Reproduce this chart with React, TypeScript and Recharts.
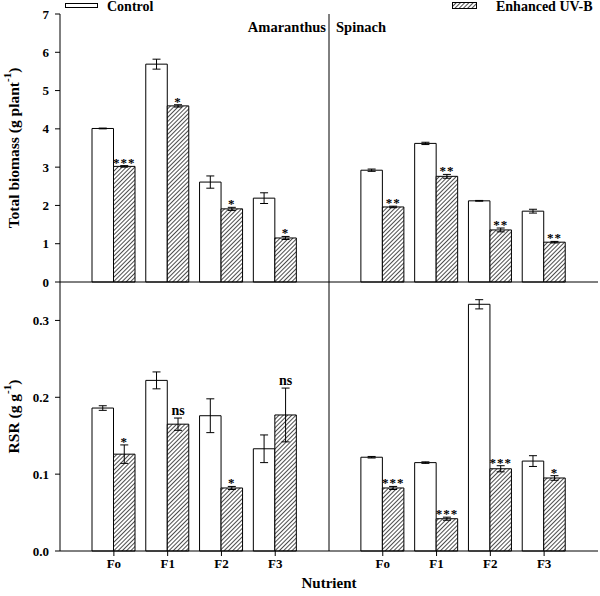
import React from 'react';
import {
  ComposedChart,
  Bar,
  XAxis,
  YAxis,
  ErrorBar,
  LabelList,
  ReferenceLine,
  Label
} from 'recharts';

const FONT = '"Liberation Serif", "Times New Roman", serif';

const nutrients = ['Fo', 'F1', 'F2', 'F3'];

// Total biomass (g plant-1)
const biomassAmaranthusControl = [4.01, 5.69, 2.61, 2.19];
const biomassAmaranthusControlErr = [0.01, 0.13, 0.16, 0.14];
const biomassAmaranthusUV = [3.02, 4.6, 1.91, 1.15];
const biomassAmaranthusUVErr = [0.02, 0.03, 0.04, 0.04];
const biomassAmaranthusSig = ['***', '*', '*', '*'];

const biomassSpinachControl = [2.92, 3.62, 2.12, 1.85];
const biomassSpinachControlErr = [0.03, 0.03, 0.01, 0.05];
const biomassSpinachUV = [1.96, 2.76, 1.36, 1.04];
const biomassSpinachUVErr = [0.02, 0.05, 0.05, 0.02];
const biomassSpinachSig = ['**', '**', '**', '**'];

// RSR (g g-1)
const rsrAmaranthusControl = [0.186, 0.222, 0.176, 0.133];
const rsrAmaranthusControlErr = [0.003, 0.011, 0.022, 0.018];
const rsrAmaranthusUV = [0.126, 0.165, 0.082, 0.177];
const rsrAmaranthusUVErr = [0.012, 0.008, 0.002, 0.035];
const rsrAmaranthusSig = ['*', 'ns', '*', 'ns'];

const rsrSpinachControl = [0.122, 0.115, 0.321, 0.117];
const rsrSpinachControlErr = [0.001, 0.001, 0.006, 0.007];
const rsrSpinachUV = [0.082, 0.042, 0.107, 0.095];
const rsrSpinachUVErr = [0.002, 0.002, 0.004, 0.003];
const rsrSpinachSig = ['***', '***', '***', '*'];

const biomassTicks = [0, 1, 2, 3, 4, 5, 6, 7];
const rsrTicks = [0, 0.1, 0.2, 0.3];

type Row = {
  key: string;
  label: string;
  c: number | null;
  ce: number | null;
  u: number | null;
  ue: number | null;
  sig: string | null;
};

const speciesRows = (
  prefix: string,
  c: number[],
  ce: number[],
  u: number[],
  ue: number[],
  sig: string[]
): Row[] =>
  nutrients.map((n, i) => ({
    key: `${prefix}-${n}`,
    label: n,
    c: c[i],
    ce: ce[i],
    u: u[i],
    ue: ue[i],
    sig: sig[i]
  }));

const gapRow: Row = { key: 'gap', label: '', c: null, ce: null, u: null, ue: null, sig: null };

const biomassRows: Row[] = [
  ...speciesRows('A', biomassAmaranthusControl, biomassAmaranthusControlErr, biomassAmaranthusUV, biomassAmaranthusUVErr, biomassAmaranthusSig),
  gapRow,
  ...speciesRows('S', biomassSpinachControl, biomassSpinachControlErr, biomassSpinachUV, biomassSpinachUVErr, biomassSpinachSig)
];

const rsrRows: Row[] = [
  ...speciesRows('A', rsrAmaranthusControl, rsrAmaranthusControlErr, rsrAmaranthusUV, rsrAmaranthusUVErr, rsrAmaranthusSig),
  gapRow,
  ...speciesRows('S', rsrSpinachControl, rsrSpinachControlErr, rsrSpinachUV, rsrSpinachUVErr, rsrSpinachSig)
];

const HatchDefs = ({ id }: { id: string }) => (
  <defs>
    <pattern id={id} patternUnits="userSpaceOnUse" width="3" height="3" patternTransform="rotate(45)">
      <rect width="3" height="3" fill="#fff" />
      <line x1="0" y1="0" x2="0" y2="3" stroke="#111" strokeWidth="1.5" />
    </pattern>
  </defs>
);

// significance mark above the error bar of the UV-B bar (label value is the row key)
const makeSigLabel = (rows: Row[]) => (props: any) => {
  const { x, y, width, height, value } = props;
  const row = rows.find(r => r.key === value);
  if (!row || !row.sig || row.u == null) return null;
  const errPx = row.u ? ((row.ue || 0) * height) / row.u : 0;
  const isStar = row.sig.startsWith('*');
  return (
    <text
      x={x + width / 2}
      y={y - errPx - (isStar ? -1 : 3)}
      textAnchor="middle"
      fontFamily={FONT}
      fontWeight="bold"
      fontSize={isStar ? 13 : 14}
      letterSpacing={isStar ? 1 : 0}
      fill="#000"
    >
      {row.sig}
    </text>
  );
};

const YTitle = ({ viewBox, main, tail }: any) => {
  const cx = 13;
  const cy = viewBox.y + viewBox.height / 2;
  return (
    <text
      x={cx}
      y={cy}
      transform={`rotate(-90, ${cx}, ${cy})`}
      textAnchor="middle"
      dominantBaseline="central"
      fontFamily={FONT}
      fontWeight="bold"
      fontSize={15.5}
      fill="#000"
    >
      {main}
      <tspan dy={-6} fontSize={11}>-1</tspan>
      <tspan dy={6}>{tail}</tspan>
    </text>
  );
};

const NutrientTick = (props: any) => {
  const { x, y, payload } = props;
  if (!payload || payload.value === 'gap') return null;
  const row = rsrRows.find(r => r.key === payload.value);
  return (
    <g>
      <line x1={x} x2={x} y1={y - 8} y2={y - 3} stroke="#000" strokeWidth={1} />
      <text x={x} y={y} dy="0.71em" textAnchor="middle" fontFamily={FONT} fontWeight="bold" fontSize={13} fill="#000">
        {row ? row.label : ''}
      </text>
    </g>
  );
};

const axisTick = { fontFamily: FONT, fontWeight: 'bold', fontSize: 13, fill: '#000' };

const App: React.FC = () => {
  return (
    <div style={{ position: 'absolute', left: 0, top: 0, width: 600, height: 596, background: '#fff', fontFamily: FONT }}>
      {/* Legend */}
      <div style={{ position: 'absolute', left: 65, top: 3, width: 33, height: 5, border: '1px solid #000', boxSizing: 'border-box' }} />
      <div style={{ position: 'absolute', left: 107, top: 0, fontSize: 14, fontWeight: 'bold', lineHeight: '14px' }}>Control</div>
      <svg style={{ position: 'absolute', left: 452, top: 2 }} width={25} height={7}>
        <HatchDefs id="hatchLegend" />
        <rect x={0.5} y={0.5} width={24} height={6} fill="url(#hatchLegend)" stroke="#000" strokeWidth={1} />
      </svg>
      <div style={{ position: 'absolute', left: 496, top: 0, fontSize: 14, fontWeight: 'bold', lineHeight: '14px', whiteSpace: 'nowrap' }}>
        Enhanced UV-B
      </div>

      {/* Total biomass */}
      <div style={{ position: 'absolute', left: 0, top: 0 }}>
        <ComposedChart
          width={600}
          height={296}
          data={biomassRows}
          margin={{ top: 14, right: 2, bottom: 0, left: 0 }}
          barGap={0}
          barSize={21.5}
        >
          <HatchDefs id="hatchTop" />
          <XAxis
            dataKey="key"
            type="category"
            height={14}
            padding={{ left: 27, right: 27 }}
            tick={false}
            tickLine={false}
            axisLine={{ stroke: '#000', strokeWidth: 1 }}
          />
          <XAxis
            xAxisId="top"
            dataKey="key"
            orientation="top"
            height={0}
            padding={{ left: 27, right: 27 }}
            tick={false}
            tickLine={false}
            axisLine={{ stroke: '#000', strokeWidth: 1 }}
          />
          <YAxis
            width={60}
            domain={[0, 7]}
            ticks={biomassTicks}
            interval={0}
            tickSize={5}
            tickMargin={6}
            tick={axisTick}
            tickLine={{ stroke: '#000' }}
            axisLine={{ stroke: '#000', strokeWidth: 1 }}
          >
            <Label content={(p: any) => <YTitle {...p} main="Total biomass (g plant" tail=")" />} />
          </YAxis>
          <YAxis
            yAxisId="right"
            orientation="right"
            width={0}
            domain={[0, 1]}
            tick={false}
            tickLine={false}
            axisLine={{ stroke: '#000', strokeWidth: 1 }}
          />
          <ReferenceLine x="gap" stroke="#000" strokeWidth={1} />
          <Bar dataKey="c" name="Control" fill="#fff" stroke="#000" strokeWidth={1} isAnimationActive={false}>
            <ErrorBar dataKey="ce" width={4} stroke="#000" strokeWidth={1} direction="y" />
          </Bar>
          <Bar dataKey="u" name="Enhanced UV-B" fill="url(#hatchTop)" stroke="#000" strokeWidth={1} isAnimationActive={false}>
            <ErrorBar dataKey="ue" width={4} stroke="#000" strokeWidth={1} direction="y" />
            <LabelList dataKey="key" content={makeSigLabel(biomassRows)} />
          </Bar>
        </ComposedChart>
      </div>

      {/* RSR */}
      <div style={{ position: 'absolute', left: 0, top: 282 }}>
        <ComposedChart
          width={600}
          height={314}
          data={rsrRows}
          margin={{ top: 0, right: 2, bottom: 0, left: 0 }}
          barGap={0}
          barSize={21.5}
        >
          <HatchDefs id="hatchBottom" />
          <XAxis
            dataKey="key"
            type="category"
            height={45}
            padding={{ left: 27, right: 27 }}
            interval={0}
            tickSize={5}
            tickMargin={3}
            tickLine={false}
            tick={<NutrientTick />}
            axisLine={{ stroke: '#000', strokeWidth: 1 }}
          >
            <Label
              content={(p: any) => (
                <text
                  x={p.viewBox.x + p.viewBox.width / 2}
                  y={p.viewBox.y + 32}
                  textAnchor="middle"
                  dominantBaseline="central"
                  fontFamily={FONT}
                  fontWeight="bold"
                  fontSize={15}
                  fill="#000"
                >
                  Nutrient
                </text>
              )}
            />
          </XAxis>
          <YAxis
            width={60}
            domain={[0, 0.35]}
            ticks={rsrTicks}
            interval={0}
            tickSize={5}
            tickMargin={6}
            tick={axisTick}
            tickFormatter={(v: number) => v.toFixed(1)}
            tickLine={{ stroke: '#000' }}
            axisLine={{ stroke: '#000', strokeWidth: 1 }}
          >
            <Label content={(p: any) => <YTitle {...p} main="RSR (g g" tail=")" />} />
          </YAxis>
          <YAxis
            yAxisId="right"
            orientation="right"
            width={0}
            domain={[0, 1]}
            tick={false}
            tickLine={false}
            axisLine={{ stroke: '#000', strokeWidth: 1 }}
          />
          <ReferenceLine x="gap" stroke="#000" strokeWidth={1} />
          <Bar dataKey="c" name="Control" fill="#fff" stroke="#000" strokeWidth={1} isAnimationActive={false}>
            <ErrorBar dataKey="ce" width={4} stroke="#000" strokeWidth={1} direction="y" />
          </Bar>
          <Bar dataKey="u" name="Enhanced UV-B" fill="url(#hatchBottom)" stroke="#000" strokeWidth={1} isAnimationActive={false}>
            <ErrorBar dataKey="ue" width={4} stroke="#000" strokeWidth={1} direction="y" />
            <LabelList dataKey="key" content={makeSigLabel(rsrRows)} />
          </Bar>
        </ComposedChart>
      </div>

      {/* Species labels */}
      <div style={{ position: 'absolute', right: 600 - 326, top: 18, fontSize: 14.5, fontWeight: 'bold', lineHeight: '18px' }}>Amaranthus</div>
      <div style={{ position: 'absolute', left: 336, top: 18, fontSize: 14.5, fontWeight: 'bold', lineHeight: '18px' }}>Spinach</div>
    </div>
  );
};

export default App;
